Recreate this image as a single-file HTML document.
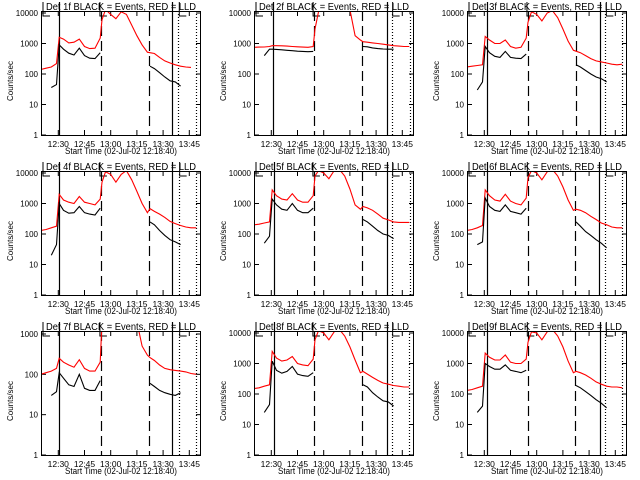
<!DOCTYPE html>
<html><head><meta charset="utf-8"><style>
html,body{margin:0;padding:0;background:#fff}
svg{display:block}
text{font-family:"Liberation Sans",sans-serif;fill:#000}
</style></head><body>
<svg id="chart" width="640" height="480" viewBox="0 0 640 480" xmlns="http://www.w3.org/2000/svg"></svg>
<script>
// minutes relative to 12:30
const times=[-10,-7,-4,-1,0.5,3,6,9,12,15,18,21,24,25,27,30,33,36,39,42,45,48,51,52.5,55,58,61,64,67,70,73,76,79];
const N=null;
const red1=[140,155,170,220,1600,1400,1050,1100,1400,800,680,700,1500,6000,13000,9000,6500,11000,9000,4000,1800,900,520,500,470,350,270,230,200,180,170,165,N];
const black1=[N,N,36,45,900,650,480,420,700,400,330,320,500,N,N,N,N,N,N,N,N,N,N,180,150,110,80,60,55,40,N,N,N];
const red2=[750,760,770,800,850,850,840,820,800,780,760,750,800,3000,11000,13000,13000,13000,13000,13000,13000,1800,1300,1150,1100,1050,1000,950,900,850,820,800,800];
const black2=[N,N,400,650,650,640,620,600,580,560,550,540,550,N,N,N,N,N,N,N,N,N,N,800,780,720,680,660,650,650,N,N,N];
const red3=[170,180,190,200,1700,1300,1000,1000,1300,800,700,750,1500,5000,11000,9000,5500,10000,12000,7000,3000,1200,600,560,500,400,320,270,250,230,210,200,210];
const black3=[N,N,30,55,800,500,380,350,550,350,330,320,450,N,N,N,N,N,N,N,N,N,N,200,170,130,100,80,70,55,N,N,N];
const red4=[130,140,160,180,2000,1300,1100,1000,1700,1100,1000,900,1400,5000,11000,9000,5000,9000,12000,6000,2500,1000,500,680,550,450,350,260,220,190,170,160,160];
const black4=[N,N,20,45,1000,600,480,500,800,500,450,420,700,N,N,N,N,N,N,N,N,N,N,250,200,130,90,65,55,45,N,N,N];
const red5=[200,210,230,250,2800,1800,1400,1300,2100,1300,1100,1100,1800,8000,12000,10000,6500,12000,13000,8000,3000,900,650,800,720,600,450,330,290,250,240,240,240];
const black5=[N,N,50,85,1400,900,650,600,1000,600,500,500,700,N,N,N,N,N,N,N,N,N,N,300,250,180,130,100,90,70,N,N,N];
const red6=[130,140,160,190,2800,1800,1300,1200,2000,1200,1000,900,1500,7000,12000,10000,6000,11000,13000,8000,3500,1300,600,650,600,500,380,300,230,200,170,160,160];
const black6=[N,N,45,55,1500,800,600,550,900,550,500,450,700,N,N,N,N,N,N,N,N,N,N,250,180,120,90,65,50,35,N,N,N];
const red7=[100,110,120,140,250,200,170,150,230,140,120,120,200,2000,2000,2000,2000,2000,2000,2000,2000,500,300,260,220,170,140,130,125,120,115,105,100];
const black7=[N,N,30,37,110,80,55,50,100,45,40,40,70,N,N,N,N,N,N,N,N,N,N,60,50,40,35,32,30,35,N,N,N];
const red8=[150,160,180,200,2500,1500,1200,1300,1700,1000,900,850,1400,6000,12000,10000,6000,11000,13000,8000,3500,1300,500,550,450,350,280,230,210,190,180,170,170];
const black8=[N,N,25,45,1200,600,480,550,800,450,400,380,500,N,N,N,N,N,N,N,N,N,N,200,170,110,80,60,55,40,N,N,N];
const red9=[130,140,160,180,2200,1600,1300,1300,1900,1100,1000,1000,1400,5000,11000,10000,6000,11000,13000,8000,3500,1200,500,550,500,420,330,250,210,180,170,170,160];
const black9=[N,N,25,40,1000,800,650,650,900,600,550,500,600,N,N,N,N,N,N,N,N,N,N,190,160,120,90,65,50,35,N,N,N];
const detNames=["1f","2f","3f","4f","5f","6f","7f","8f","9f"];
const yTopDecade=[4,4,4,4,4,4,3,4,4];
const xTickMinutes=[0,15,30,45,60,75];
const xTickLabels=["12:30","12:45","13:00","13:15","13:30","13:45"];
// vertical markers: solid, dashed, dashed, solid, dotted, dotted
const marks=[[0.6,24.4,51.9,65.3,68.7,78.6],[1.1,24.5,52.1,66.1,68.9,79.2],[1.4,25,52.3,66.1,69.3,79],
[0.6,24.4,52.1,65.3,68.9,78.6],[1.4,24.4,52.1,66.1,68.9,79.2],[1.4,25.2,52.1,65.9,69.3,79],
[0.6,24.4,52.1,65.3,68.9,78.6],[1.4,24.4,51.9,66.1,68.9,79],[1.4,25.2,52.1,66.1,69.3,79]];
const reds=[red1,red2,red3,red4,red5,red6,red7,red8,red9];
const blacks=[black1,black2,black3,black4,black5,black6,black7,black8,black9];

const NS="http://www.w3.org/2000/svg";
const svg=document.getElementById('chart');
function mk(tag,attrs,parent){const e=document.createElementNS(NS,tag);for(const k in attrs)e.setAttribute(k,attrs[k]);(parent||svg).appendChild(e);return e;}
const X0=41,X1=201,Y0=11,Y1=135,TMIN=-9.9,TMAX=81.7;
function xs(t){return X0+(t-TMIN)/(TMAX-TMIN)*(X1-X0);}
function ys(v,dec){const lm=dec+(dec===4?0.066:0.074);return Y1-Math.log10(v)/lm*(Y1-Y0);}

for(let p=0;p<9;p++){
  const ox=(p%3)*213, oy=Math.floor(p/3)*160, dec=yTopDecade[p];
  const g=mk('g',{transform:`translate(${ox},${oy})`});
  
  
  const cid='clip'+p;
  const cp=mk('clipPath',{id:cid},g);mk('rect',{x:X0,y:Y0,width:X1-X0,height:Y1-Y0},cp);
  const tt=mk('text',{x:121,y:10,'font-size':10,'text-anchor':'middle',textLength:150,lengthAdjust:'spacingAndGlyphs'},g);
  tt.textContent='Det '+detNames[p]+' BLACK = Events, RED = LLD';
  
  
  const yl=mk('text',{x:0,y:0,'font-size':8,'text-anchor':'middle',transform:'translate(13,81) rotate(-90)'},g);
  yl.textContent='Counts/sec';
  
  
  const xl=mk('text',{x:121,y:154,'font-size':9,'text-anchor':'middle',textLength:112,lengthAdjust:'spacingAndGlyphs'},g);
  xl.textContent='Start Time (02-Jul-02 12:18:40)';
  
  
  for(let d=0;d<=dec;d++){
    const y=ys(Math.pow(10,d),dec);
    mk('line',{x1:X0,x2:X0+5,y1:y,y2:y,stroke:'#000','stroke-width':1},g);
    mk('line',{x1:X1-5,x2:X1,y1:y,y2:y,stroke:'#000','stroke-width':1},g);
    const lb=mk('text',{x:X0-3,y:y+3,'font-size':8,'text-anchor':'end'},g);
    lb.textContent=String(Math.pow(10,d));
    
    
  }
  xTickMinutes.forEach((m,i)=>{
    const x=xs(m);
    mk('line',{x1:x,x2:x,y1:Y1,y2:Y1-5,stroke:'#000','stroke-width':1},g);
    mk('line',{x1:x,x2:x,y1:Y0,y2:Y0+5,stroke:'#000','stroke-width':1},g);
    const lb=mk('text',{x:x,y:147,'font-size':8.5,'text-anchor':'middle'},g);
    lb.textContent=xTickLabels[i];
    
    
  });
  const mm=marks[p];
  const styles=[['',2],['10,5',Y0],['10,5',Y0],['',2],['1,2',Y0],['1,2',Y0]];
  mm.forEach((t,i)=>{
    const x=Math.round(xs(t))+0.5;
    const ln=mk('line',{x1:x,x2:x,y1:styles[i][1],y2:Y1,stroke:'#000','stroke-width':1.2},g);
    if(styles[i][0])ln.setAttribute('stroke-dasharray',styles[i][0]);
    
    
  });
  [[43,50],[xs(mm[1])-1,xs(mm[1])+6],[xs(mm[4])+1,xs(mm[4])+8]].forEach(b=>{
    mk('polyline',{points:`${b[0]},2 ${b[0]},16 ${b[1]},16`,fill:'none',stroke:'#000','stroke-width':1},g);
  });
  function path(vals){
    let d='',pen=false;
    vals.forEach((v,i)=>{
      if(v===null){pen=false;return;}
      d+=(pen?'L':'M')+xs(times[i]).toFixed(1)+','+ys(v,dec).toFixed(1);pen=true;
    });
    return d;
  }
  const rp=mk('path',{d:path(reds[p]),fill:'none',stroke:'#ff0000','stroke-width':1.1,'clip-path':`url(#${cid})`},g);
  
  
  const bp=mk('path',{d:path(blacks[p]),fill:'none',stroke:'#000','stroke-width':1.1,'clip-path':`url(#${cid})`},g);
  
  
  const fr=mk('rect',{x:X0+0.5,y:Y0+0.5,width:X1-X0-1,height:Y1-Y0,fill:'none',stroke:'#000','stroke-width':1},g);
  
  
}
</script>
</body></html>
